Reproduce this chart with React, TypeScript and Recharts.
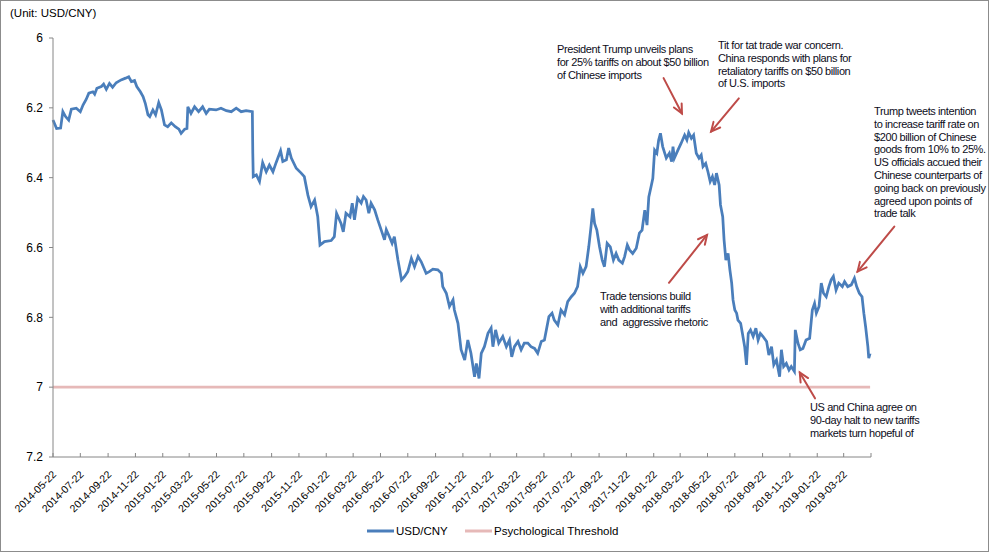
import React from 'react';
import { LineChart, Line, XAxis, YAxis, Legend, ReferenceLine } from 'recharts';

const dates = [
  '2014-05-22', '2014-05-30', '2014-06-08', '2014-06-13', '2014-06-19', '2014-06-26', '2014-07-02', '2014-07-13',
  '2014-07-22', '2014-07-28', '2014-08-04', '2014-08-10', '2014-08-19', '2014-08-23', '2014-08-28', '2014-09-07',
  '2014-09-12', '2014-09-18', '2014-09-25', '2014-10-02', '2014-10-10', '2014-10-21', '2014-10-31', '2014-11-07',
  '2014-11-13', '2014-11-20', '2014-11-25', '2014-12-03', '2014-12-09', '2014-12-14', '2014-12-20', '2014-12-24',
  '2014-12-31', '2015-01-06', '2015-01-13', '2015-01-19', '2015-01-26', '2015-02-02', '2015-02-10', '2015-02-19',
  '2015-02-27', '2015-03-04', '2015-03-12', '2015-03-17', '2015-03-19', '2015-03-26', '2015-04-03', '2015-04-12',
  '2015-04-21', '2015-04-29', '2015-05-06', '2015-05-21', '2015-06-01', '2015-06-13', '2015-06-24', '2015-07-05',
  '2015-07-16', '2015-07-27', '2015-08-10', '2015-08-11', '2015-08-12', '2015-08-19', '2015-08-26', '2015-09-02',
  '2015-09-10', '2015-09-17', '2015-09-25', '2015-10-02', '2015-10-12', '2015-10-17', '2015-10-25', '2015-10-30',
  '2015-11-05', '2015-11-16', '2015-11-27', '2015-12-04', '2015-12-12', '2015-12-19', '2015-12-27', '2016-01-03',
  '2016-01-08', '2016-01-18', '2016-02-02', '2016-02-09', '2016-02-14', '2016-02-24', '2016-02-29', '2016-03-06',
  '2016-03-15', '2016-03-20', '2016-03-25', '2016-04-01', '2016-04-09', '2016-04-14', '2016-04-20', '2016-04-26',
  '2016-05-01', '2016-05-09', '2016-05-16', '2016-05-26', '2016-05-31', '2016-06-04', '2016-06-11', '2016-06-17',
  '2016-06-22', '2016-06-30', '2016-07-08', '2016-07-15', '2016-07-22', '2016-07-30', '2016-08-06', '2016-08-14',
  '2016-08-21', '2016-09-01', '2016-09-08', '2016-09-16', '2016-09-27', '2016-10-05', '2016-10-08', '2016-10-16',
  '2016-10-23', '2016-10-31', '2016-11-03', '2016-11-11', '2016-11-18', '2016-11-26', '2016-12-03', '2016-12-10',
  '2016-12-18', '2016-12-22', '2016-12-28', '2017-01-02', '2017-01-09', '2017-01-17', '2017-01-24', '2017-01-28',
  '2017-02-03', '2017-02-10', '2017-02-19', '2017-02-27', '2017-03-06', '2017-03-11', '2017-03-17', '2017-03-25',
  '2017-04-01', '2017-04-08', '2017-04-16', '2017-04-23', '2017-05-01', '2017-05-08', '2017-05-16', '2017-05-23',
  '2017-06-02', '2017-06-09', '2017-06-14', '2017-06-22', '2017-06-29', '2017-07-07', '2017-07-14', '2017-07-22',
  '2017-07-29', '2017-08-05', '2017-08-11', '2017-08-17', '2017-08-24', '2017-08-30', '2017-09-04', '2017-09-08',
  '2017-09-12', '2017-09-17', '2017-09-23', '2017-09-29', '2017-10-04', '2017-10-10', '2017-10-17', '2017-10-24',
  '2017-10-30', '2017-11-05', '2017-11-13', '2017-11-18', '2017-11-24', '2017-11-29', '2017-12-06', '2017-12-14',
  '2017-12-21', '2017-12-27', '2018-01-02', '2018-01-07', '2018-01-11', '2018-01-16', '2018-01-20', '2018-01-24',
  '2018-01-29', '2018-02-02', '2018-02-06', '2018-02-11', '2018-02-19', '2018-02-26', '2018-03-03', '2018-03-06',
  '2018-03-09', '2018-03-17', '2018-03-24', '2018-04-01', '2018-04-06', '2018-04-10', '2018-04-16', '2018-04-21',
  '2018-04-27', '2018-05-03', '2018-05-08', '2018-05-12', '2018-05-18', '2018-05-23', '2018-05-28', '2018-06-02',
  '2018-06-07', '2018-06-11', '2018-06-17', '2018-06-20', '2018-06-25', '2018-06-28', '2018-07-02', '2018-07-07',
  '2018-07-11', '2018-07-15', '2018-07-18', '2018-07-22', '2018-07-26', '2018-07-29', '2018-08-04', '2018-08-08',
  '2018-08-13', '2018-08-17', '2018-08-21', '2018-08-26', '2018-09-01', '2018-09-07', '2018-09-12', '2018-09-17',
  '2018-09-23', '2018-10-01', '2018-10-06', '2018-10-12', '2018-10-17', '2018-10-23', '2018-10-30', '2018-11-03',
  '2018-11-08', '2018-11-14', '2018-11-20', '2018-11-25', '2018-12-02', '2018-12-04', '2018-12-10', '2018-12-15',
  '2018-12-21', '2018-12-28', '2019-01-05', '2019-01-11', '2019-01-16', '2019-01-20', '2019-01-26', '2019-01-31',
  '2019-02-05', '2019-02-11', '2019-02-17', '2019-02-22', '2019-02-27', '2019-03-05', '2019-03-11', '2019-03-19',
  '2019-03-24', '2019-03-31', '2019-04-08', '2019-04-15', '2019-04-20', '2019-04-26', '2019-05-02', '2019-05-06',
  '2019-05-10', '2019-05-15', '2019-05-17', '2019-05-20',
];

const usdCny = [
  6.235, 6.259, 6.258, 6.211, 6.225, 6.235, 6.204, 6.201,
  6.211, 6.192, 6.176, 6.158, 6.154, 6.161, 6.144, 6.139,
  6.132, 6.147, 6.130, 6.141, 6.128, 6.120, 6.115, 6.111,
  6.125, 6.122, 6.139, 6.154, 6.168, 6.187, 6.220, 6.225,
  6.206, 6.220, 6.185, 6.206, 6.249, 6.254, 6.243, 6.254,
  6.261, 6.273, 6.261, 6.259, 6.197, 6.216, 6.197, 6.211,
  6.197, 6.216, 6.204, 6.206, 6.201, 6.208, 6.211, 6.201,
  6.211, 6.208, 6.211, 6.330, 6.397, 6.392, 6.411, 6.357,
  6.383, 6.364, 6.383, 6.357, 6.323, 6.354, 6.349, 6.315,
  6.344, 6.373, 6.387, 6.397, 6.450, 6.483, 6.464, 6.512,
  6.593, 6.583, 6.580, 6.569, 6.502, 6.531, 6.555, 6.502,
  6.512, 6.473, 6.521, 6.459, 6.473, 6.454, 6.464, 6.502,
  6.473, 6.492, 6.521, 6.559, 6.578, 6.549, 6.569, 6.588,
  6.569, 6.636, 6.693, 6.683, 6.669, 6.631, 6.655, 6.626,
  6.641, 6.674, 6.669, 6.662, 6.664, 6.674, 6.712, 6.731,
  6.769, 6.750, 6.779, 6.817, 6.893, 6.922, 6.865, 6.903,
  6.970, 6.932, 6.975, 6.903, 6.884, 6.846, 6.831, 6.884,
  6.836, 6.874, 6.855, 6.884, 6.865, 6.913, 6.884, 6.869,
  6.893, 6.874, 6.874, 6.884, 6.889, 6.903, 6.869, 6.865,
  6.798, 6.788, 6.808, 6.822, 6.779, 6.793, 6.755, 6.741,
  6.731, 6.712, 6.655, 6.674, 6.655, 6.598, 6.540, 6.488,
  6.531, 6.550, 6.598, 6.636, 6.655, 6.588, 6.598, 6.636,
  6.617, 6.636, 6.645, 6.626, 6.593, 6.607, 6.617, 6.602,
  6.559, 6.550, 6.493, 6.536, 6.455, 6.426, 6.402, 6.321,
  6.330, 6.292, 6.273, 6.311, 6.344, 6.330, 6.354, 6.311,
  6.344, 6.321, 6.302, 6.278, 6.292, 6.271, 6.287, 6.278,
  6.330, 6.344, 6.335, 6.368, 6.359, 6.383, 6.411, 6.397,
  6.421, 6.387, 6.421, 6.478, 6.512, 6.578, 6.636, 6.617,
  6.664, 6.702, 6.750, 6.779, 6.788, 6.808, 6.817, 6.846,
  6.884, 6.936, 6.846, 6.836, 6.855, 6.831, 6.865, 6.846,
  6.855, 6.869, 6.908, 6.884, 6.936, 6.922, 6.970, 6.893,
  6.941, 6.932, 6.951, 6.941, 6.955, 6.836, 6.874, 6.893,
  6.889, 6.865, 6.860, 6.779, 6.760, 6.788, 6.769, 6.702,
  6.731, 6.741, 6.712, 6.693, 6.683, 6.722, 6.702, 6.712,
  6.698, 6.712, 6.707, 6.688, 6.712, 6.731, 6.741, 6.788,
  6.827, 6.884, 6.917, 6.903,
];

const thresholdLevel = 7;

// tick marks every two months, the last one closes the axis without a label
const tickDates = [
  '2014-05-22', '2014-07-22', '2014-09-22', '2014-11-22', '2015-01-22', '2015-03-22',
  '2015-05-22', '2015-07-22', '2015-09-22', '2015-11-22', '2016-01-22', '2016-03-22',
  '2016-05-22', '2016-07-22', '2016-09-22', '2016-11-22', '2017-01-22', '2017-03-22',
  '2017-05-22', '2017-07-22', '2017-09-22', '2017-11-22', '2018-01-22', '2018-03-22',
  '2018-05-22', '2018-07-22', '2018-09-22', '2018-11-22', '2019-01-22', '2019-03-22',
  '2019-05-22',
];
const yTicks = [6, 6.2, 6.4, 6.6, 6.8, 7, 7.2];

// callout arrows: tail -> head, in (date, rate)
const arrows = [
  { from: ['2018-02-13', 6.115], to: ['2018-03-26', 6.216] },
  { from: ['2018-07-31', 6.173], to: ['2018-05-30', 6.268] },
  { from: ['2018-02-25', 6.701], to: ['2018-05-21', 6.564] },
  { from: ['2019-01-17', 7.032], to: ['2018-12-14', 6.958] },
  { from: ['2019-07-13', 6.54], to: ['2019-04-22', 6.669] },
];

const noteTrumpPlans = ['President Trump unveils plans', 'for 25% tariffs on about $50 billion', 'of Chinese imports'];
const noteTitForTat = ['Tit for tat trade war concern.', 'China responds with plans for', 'retaliatory tariffs on $50 billion', 'of U.S. imports'];
const noteTensions = ['Trade tensions build', 'with additional tariffs', 'and  aggressive rhetoric'];
const noteHalt = ['US and China agree on', '90-day halt to new tariffs', 'markets turn hopeful of'];
const noteTweets = [
  'Trump tweets intention', 'to increase tariff rate on', '$200 billion of Chinese', 'goods from 10% to 25%.',
  'US officials accued their', 'Chinese counterparts of', 'going back on previously', 'agreed upon points of', 'trade talk',
];

const series = [
  { key: 'rate', name: 'USD/CNY', color: '#4A7EBB' },
  { key: 'threshold', name: 'Psychological Threshold', color: '#E6B9B8' },
];

const toTime = (d: string) => Date.parse(d);
const rows = dates.map((d, i) => ({ t: toTime(d), rate: usdCny[i], threshold: thresholdLevel }));
const tickTimes = tickDates.map(toTime);
const labelOf = new Map(tickDates.map((d, i) => [toTime(d), i < tickDates.length - 1 ? d : '']));

const FONT = "'Liberation Sans', Arial, sans-serif";
const AXIS = '#868686';

const DateTick = (props: any) => {
  const { x, y, payload } = props;
  const label = labelOf.get(payload.value) || '';
  const px = x + 4;
  const py = y + 18;
  return (
    <g>
      <line x1={x} y1={y} x2={x} y2={y - 4} stroke={AXIS} />
      {label && (
        <text x={px} y={py} transform={`rotate(-45 ${px} ${py})`} textAnchor="end" fontSize={10.5} fontFamily={FONT} fill="#000">
          {label}
        </text>
      )}
    </g>
  );
};

const arrowShape = (p: any) => {
  const { x1, y1, x2, y2 } = p;
  const a = Math.atan2(y2 - y1, x2 - x1);
  const len = 10;
  const spread = 0.45;
  const hx1 = x2 - len * Math.cos(a - spread);
  const hy1 = y2 - len * Math.sin(a - spread);
  const hx2 = x2 - len * Math.cos(a + spread);
  const hy2 = y2 - len * Math.sin(a + spread);
  return (
    <g stroke="#BE4B48" strokeWidth={2} fill="none" strokeLinecap="round">
      <line x1={x1} y1={y1} x2={x2} y2={y2} />
      <polyline points={`${hx1},${hy1} ${x2},${y2} ${hx2},${hy2}`} />
    </g>
  );
};

// legend drawn in series order (recharts sorts by name otherwise)
const legendLeft = [367, 465];
const renderLegend = () => (
  <div style={{ position: 'relative', height: 18, fontFamily: FONT }}>
    {series.map((s, i) => (
      <div key={s.key} style={{ position: 'absolute', left: legendLeft[i], top: 0, height: 18, display: 'flex', alignItems: 'center' }}>
        <svg width={27} height={6}>
          <line x1={0} y1={3} x2={27} y2={3} stroke={s.color} strokeWidth={3} />
        </svg>
        <span style={{ marginLeft: 2, fontSize: 11.5, color: '#000', whiteSpace: 'nowrap' }}>{s.name}</span>
      </div>
    ))}
  </div>
);

const Note = ({ lines, left, top }: { lines: string[]; left: number; top: number }) => (
  <div style={{ position: 'absolute', left, top, fontFamily: FONT, fontSize: 11, letterSpacing: '-0.4px', lineHeight: '12.8px', color: '#0d0d1a' }}>
    {lines.map((l) => (
      <div key={l} style={{ whiteSpace: 'pre' }}>{l}</div>
    ))}
  </div>
);

const App: React.FC = () => {
  return (
    <div style={{ position: 'absolute', left: 0, top: 0, width: 989, height: 552, fontFamily: FONT, background: '#fff' }}>
      <LineChart width={989} height={552} data={rows} margin={{ top: 38, right: 118, left: 0, bottom: 35 }}>
        <XAxis
          dataKey="t"
          type="number"
          domain={[tickTimes[0], tickTimes[tickTimes.length - 1]]}
          ticks={tickTimes}
          interval={0}
          height={60}
          tickSize={0}
          tickMargin={0}
          tickLine={false}
          axisLine={{ stroke: AXIS }}
          tick={<DateTick />}
        />
        <YAxis
          reversed
          domain={[6, 7.2]}
          ticks={yTicks}
          interval={0}
          width={53}
          tickSize={4}
          tickMargin={6}
          axisLine={{ stroke: AXIS }}
          tickLine={{ stroke: AXIS }}
          tick={{ fontSize: 12, fill: '#000', fontFamily: FONT }}
          tickFormatter={(v: number) => String(v)}
        />
        {series.map((s) => (
          <Line
            key={s.key}
            type="linear"
            dataKey={s.key}
            name={s.name}
            stroke={s.color}
            strokeWidth={2.75}
            dot={false}
            activeDot={false}
            isAnimationActive={false}
          />
        ))}
        {arrows.map((a, i) => (
          <ReferenceLine
            key={i}
            segment={[
              { x: toTime(a.from[0] as string), y: a.from[1] as number },
              { x: toTime(a.to[0] as string), y: a.to[1] as number },
            ]}
            ifOverflow="visible"
            shape={arrowShape}
          />
        ))}
        <Legend layout="horizontal" verticalAlign="middle" align="center" wrapperStyle={{ top: 522, left: 0, width: 989, height: 18 }} content={renderLegend} />
      </LineChart>
      <div style={{ position: 'absolute', left: 10, top: 7, fontSize: 11.5, color: '#000' }}>(Unit: USD/CNY)</div>
      <Note lines={noteTrumpPlans} left={557} top={43} />
      <Note lines={noteTitForTat} left={718} top={39} />
      <Note lines={noteTensions} left={600} top={290} />
      <Note lines={noteHalt} left={810} top={401} />
      <Note lines={noteTweets} left={874} top={105} />
      <div style={{ position: 'absolute', left: 0, top: 0, width: 989, height: 552, border: '1px solid #8c8c8c', boxSizing: 'border-box', pointerEvents: 'none' }} />
    </div>
  );
};

export default App;
